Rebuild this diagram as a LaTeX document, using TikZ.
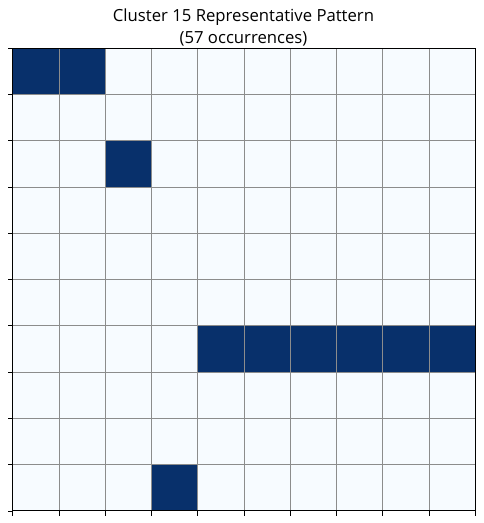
\documentclass[tikz,border=0pt]{standalone}
\usepackage{fontspec}
\setmainfont{Open Sans}
\definecolor{cellhi}{HTML}{08306B}
\definecolor{celllo}{HTML}{F7FBFF}
\definecolor{gridgray}{HTML}{8C8C8C}
\begin{document}
\begin{tikzpicture}[x=1pt,y=-1pt,
  gridline/.style={draw=gridgray,line width=0.8pt},
  spine/.style={draw=black,line width=1.1pt},
  tickmark/.style={draw=black,line width=0.8pt},
  titletext/.style={font=\fontsize{16.7}{22}\selectfont,align=center,inner sep=0pt}]
\useasboundingbox (0,0) rectangle (484,523);
\fill[white] (0,0) rectangle (484,523);
\def\gx{12.7}\def\gy{48.3}\def\cs{46.26}
% background cells
\fill[celllo] (\gx,\gy) rectangle ({\gx+10*\cs},{\gy+10*\cs});
% dark cells
\foreach \r/\c in {0/0,0/1,2/2,6/4,6/5,6/6,6/7,6/8,6/9,9/3}{
  \fill[cellhi] ({\gx+\c*\cs},{\gy+\r*\cs}) rectangle ({\gx+(\c+1)*\cs},{\gy+(\r+1)*\cs});
}
% grid lines
\foreach \i in {1,...,9}{
  \draw[gridline] ({\gx+\i*\cs},\gy) -- ({\gx+\i*\cs},{\gy+10*\cs});
  \draw[gridline] (\gx,{\gy+\i*\cs}) -- ({\gx+10*\cs},{\gy+\i*\cs});
}
% ticks
\foreach \i in {0,...,10}{
  \draw[tickmark] ({\gx+\i*\cs},{\gy+10*\cs}) -- ({\gx+\i*\cs},{\gy+10*\cs+4.9});
  \draw[tickmark] (\gx,{\gy+\i*\cs}) -- ({\gx-4.9},{\gy+\i*\cs});
}
% spines
\draw[spine] (\gx,\gy) rectangle ({\gx+10*\cs},{\gy+10*\cs});
\node[titletext] (title) at (243.5,27) {Cluster 15 Representative Pattern\\(57 occurrences)};
\end{tikzpicture}
\end{document}
